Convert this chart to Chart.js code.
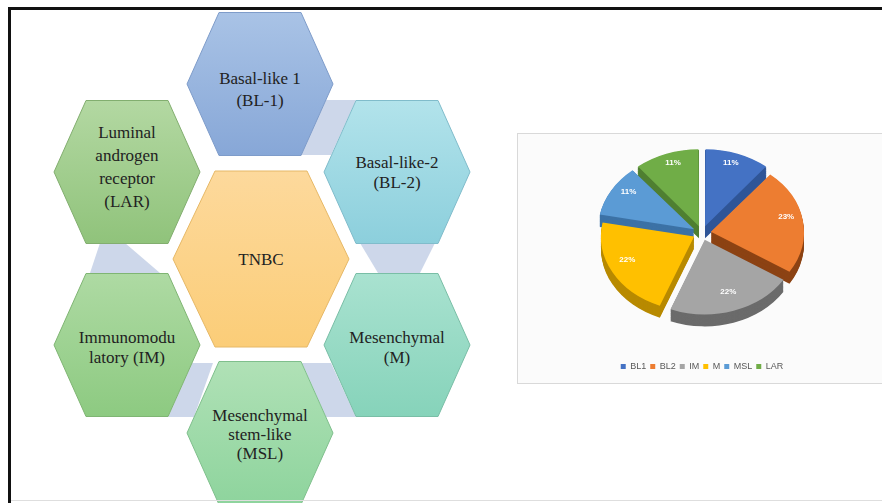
<!DOCTYPE html>
<html>
<head>
<meta charset="utf-8">
<script src="https://cdn.jsdelivr.net/npm/chart.js@4.4.1/dist/chart.umd.min.js"></script>
<style>
  html, body { margin: 0; padding: 0; background: #fff; }
  body { width: 882px; height: 503px; position: relative; overflow: hidden; }
  #diagram { position: absolute; left: 0; top: 0; }
  #pieBox {
    position: absolute; left: 517px; top: 133px; width: 400px; height: 251px;
    box-sizing: border-box; border: 1px solid #d9d9d9; background: #fbfbfb;
  }
  #pieCanvas { position: absolute; left: 517px; top: 108px; }
</style>
</head>
<body>
<svg id="diagram" width="882" height="503" xmlns="http://www.w3.org/2000/svg"></svg>
<div id="pieBox"></div>
<canvas id="pieCanvas" width="370" height="275"></canvas>
<script>
// TNBC subtypes and their share of cases
const subtypeLabels = ['BL1', 'BL2', 'IM', 'M', 'MSL', 'LAR'];
const subtypeShares = [11, 23, 22, 22, 11, 11];

const faceColors = ['#4472c4', '#ed7d31', '#a5a5a5', '#ffc000', '#5b9bd5', '#70ad47'];
const sideColors = ['#2f5597', '#8c4314', '#6b6b6b', '#b88a00', '#3c72a6', '#4f7f31'];

// Hexagon cluster on the left
const hexLabels = [
  ['Basal-like 1', '(BL-1)'],
  ['Basal-like-2', '(BL-2)'],
  ['Mesenchymal', '(M)'],
  ['Mesenchymal', 'stem-like', '(MSL)'],
  ['Immunomodu', 'latory (IM)'],
  ['Luminal', 'androgen', 'receptor', '(LAR)'],
  ['TNBC']
];

const hexStyles = [
  { cx: 260, cy: 84,  textCy: 89,  gap: 22, top: '#a9c3e6', bottom: '#87a7d7', edge: '#7e9cca' },
  { cx: 397, cy: 172, textCy: 172, gap: 20, top: '#b2e3eb', bottom: '#8ccfdc', edge: '#80bccb' },
  { cx: 397, cy: 345, textCy: 347, gap: 20, top: '#a9e2d0', bottom: '#86d3ba', edge: '#79bea6' },
  { cx: 260, cy: 433, textCy: 434, gap: 19, top: '#b0e1b6', bottom: '#8ed49d', edge: '#7fbf8c' },
  { cx: 127, cy: 345, textCy: 347, gap: 20, top: '#aedaa3', bottom: '#8dca81', edge: '#7fb573' },
  { cx: 127, cy: 172, textCy: 167, gap: 23, top: '#b3d8a2', bottom: '#90c37b', edge: '#82ae6f' },
  { cx: 261, cy: 259, textCy: 259, gap: 20, top: '#fdd99c', bottom: '#fbcd78', edge: '#e6b866', big: true }
];

// light bands that join neighbouring hexagons
const links = [
  [[326, 100], [356, 100], [331, 155], [300, 155]],
  [[360, 243], [435, 243], [420, 273], [378, 273]],
  [[302, 363], [331, 363], [356, 417], [326, 417]],
  [[192, 363], [213, 363], [194, 417], [168, 417]],
  [[100, 243], [125, 243], [160, 273], [90, 273]]
];

const NS = 'http://www.w3.org/2000/svg';
const svg = document.getElementById('diagram');

function el(name, attrs, parent) {
    const node = document.createElementNS(NS, name);
    Object.entries(attrs).forEach(([k, v]) => node.setAttribute(k, v));
    (parent || svg).appendChild(node);
    return node;
}

function hexPoints(cx, cy, hw, hh, inset) {
    return [
        [cx - hw, cy], [cx - hw + inset, cy - hh], [cx + hw - inset, cy - hh],
        [cx + hw, cy], [cx + hw - inset, cy + hh], [cx - hw + inset, cy + hh]
    ].map(p => p.join(',')).join(' ');
}

const defs = el('defs', {});

links.forEach(pts => {
    el('polygon', { points: pts.map(p => p.join(',')).join(' '), fill: '#cdd7ea' });
});

hexStyles.forEach((h, i) => {
    const grad = el('linearGradient', { id: 'hg' + i, x1: 0, y1: 0, x2: 0, y2: 1 }, defs);
    el('stop', { offset: '0', 'stop-color': h.top }, grad);
    el('stop', { offset: '1', 'stop-color': h.bottom }, grad);

    const hw = h.big ? 88 : 73;
    const hh = h.big ? 88 : 71.5;
    const inset = h.big ? 42 : 32;
    el('polygon', {
        points: hexPoints(h.cx, h.cy, hw, hh, inset),
        fill: `url(#hg${i})`, stroke: h.edge, 'stroke-width': 1
    });

    const lines = hexLabels[i];
    const startY = h.textCy - (lines.length - 1) * h.gap / 2;
    lines.forEach((line, j) => {
        const t = el('text', {
            x: h.cx, y: startY + j * h.gap,
            'text-anchor': 'middle', 'dominant-baseline': 'central',
            'font-family': 'Liberation Serif, serif', 'font-size': 17, fill: '#222'
        });
        t.textContent = line;
    });
});

// frame
el('rect', { x: 8, y: 7, width: 874, height: 3, fill: '#111' });
el('rect', { x: 8, y: 7, width: 3, height: 496, fill: '#111' });
el('rect', { x: 11, y: 500, width: 871, height: 1, fill: '#dedede' });

// Pie with a tilted, extruded look
function wedgePath(ctx, arc, dy) {
    const off = (arc.options.offset || 0) / 4;
    const sweep = arc.endAngle - arc.startAngle;
    const fix = 1 - Math.sin(Math.min(Math.PI, sweep));
    const r = arc.outerRadius + off * fix;
    const mid = (arc.startAngle + arc.endAngle) / 2;
    const x = arc.x + Math.cos(mid) * off;
    const y = arc.y + Math.sin(mid) * off + dy;
    ctx.beginPath();
    ctx.moveTo(x, y);
    ctx.arc(x, y, r, arc.startAngle, arc.endAngle);
    ctx.closePath();
}

const pieDepth = {
    id: 'pieDepth',
    beforeDatasetsDraw(chart, args, opts) {
        const ctx = chart.ctx;
        const arcs = chart.getDatasetMeta(0).data;
        const cx = arcs[0].x, cy = arcs[0].y;
        ctx.save();
        ctx.translate(cx, cy - opts.lift);
        ctx.scale(1, opts.tilt);
        ctx.translate(-cx, -cy);

        // sides, back slices first
        const order = arcs.map((a, i) => i).sort((a, b) => {
            const ma = (arcs[a].startAngle + arcs[a].endAngle) / 2;
            const mb = (arcs[b].startAngle + arcs[b].endAngle) / 2;
            return Math.sin(ma) - Math.sin(mb);
        });
        order.forEach(i => {
            ctx.fillStyle = sideColors[i];
            for (let k = opts.depth; k > 0; k--) {
                wedgePath(ctx, arcs[i], k);
                ctx.fill();
            }
        });
    },
    afterDatasetsDraw(chart, args, opts) {
        const ctx = chart.ctx;
        ctx.restore();

        // percentage labels near the rim of each slice
        const arcs = chart.getDatasetMeta(0).data;
        const cy = arcs[0].y;
        ctx.save();
        ctx.fillStyle = '#ffffff';
        ctx.font = 'bold 8px "Liberation Sans", Arial, sans-serif';
        ctx.textAlign = 'center';
        ctx.textBaseline = 'middle';
        arcs.forEach((arc, i) => {
            const mid = (arc.startAngle + arc.endAngle) / 2;
            const dist = (arc.options.offset || 0) / 4 + arc.outerRadius * 0.82;
            const x = arc.x + Math.cos(mid) * dist;
            const y = (cy - opts.lift - opts.labelLift) + Math.sin(mid) * dist * opts.tilt;
            ctx.fillText(subtypeShares[i] + '%', x, y);
        });
        ctx.restore();
    }
};

const ctx = document.getElementById('pieCanvas').getContext('2d');
new Chart(ctx, {
    type: 'pie',
    data: {
        labels: subtypeLabels,
        datasets: [{
            data: subtypeShares,
            backgroundColor: faceColors,
            borderWidth: 0,
            offset: 36,
            radius: 93
        }]
    },
    options: {
        responsive: false,
        animation: false,
        devicePixelRatio: 1,
        layout: { padding: { top: 0, bottom: 2 } },
        plugins: {
            legend: {
                position: 'bottom',
                labels: {
                    boxWidth: 5,
                    boxHeight: 5,
                    padding: 4,
                    color: '#595959',
                    font: { size: 9, family: 'Liberation Sans' }
                }
            },
            tooltip: { enabled: false },
            pieDepth: { tilt: 0.8, depth: 15, lift: 0, labelLift: 6 }
        }
    },
    plugins: [pieDepth]
});
</script>
</body>
</html>
